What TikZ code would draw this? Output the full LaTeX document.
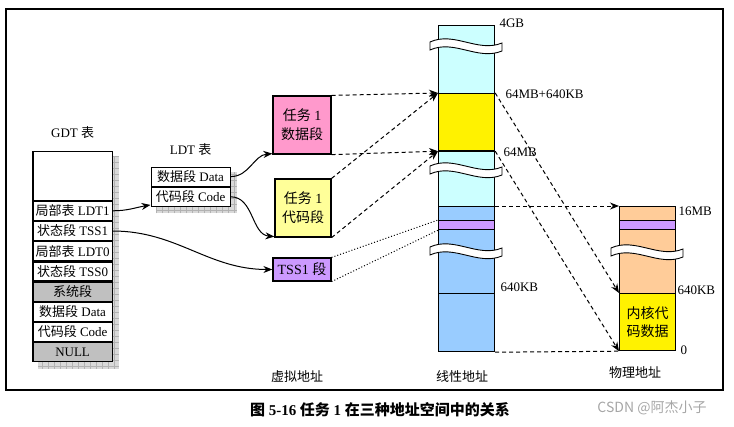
\documentclass[tikz,border=0pt]{standalone}
\usepackage{fontspec}
\setmainfont{Liberation Serif}
\newfontfamily\cjk{Noto Sans CJK SC}
\newcommand{\zh}[1]{{\cjk #1}}
\usepackage{tikz}
\usepackage{xcolor}
\usetikzlibrary{positioning,arrows.meta,backgrounds}

\definecolor{segpink}{HTML}{FF99CC}
\definecolor{segpale}{HTML}{FFFF99}
\definecolor{segtss}{HTML}{CC99FF}
\definecolor{segcyan}{HTML}{CCFFFF}
\definecolor{segblue}{HTML}{99CCFF}
\definecolor{segpeach}{HTML}{FFCC99}
\definecolor{seggray}{HTML}{C0C0C0}

% wavy cut across a column: centre x, centre y
\newcommand{\gapmark}[2]{%
  \filldraw[fill=white,line width=0.9pt] (#1-36,#2-4) .. controls (#1-12,#2-15) and (#1+12,#2+7) .. (#1+36,#2-3)
    -- (#1+36,#2+5) .. controls (#1+12,#2+15) and (#1-12,#2-7) .. (#1-36,#2+4) -- cycle;}

% grey chequered shadow under a table
\newcommand{\tableshadow}[1]{%
  \fill[gray!30] ([shift={(6,6)}]#1.north west) rectangle ([shift={(6,6)}]#1.south east);
  \draw[gray!60,step=6pt,line width=0.5pt] ([shift={(6,6)}]#1.north west) grid ([shift={(6,6)}]#1.south east);}

\begin{document}
\begin{tikzpicture}[x=1pt,y=-1pt,line width=1pt,
font=\fontsize{13}{15}\selectfont,
>={Stealth[length=9pt,width=7pt]},
slot/.style={draw,fill=white,line width=1.2pt,minimum width=79pt,minimum height=19pt,inner sep=0pt},
vbox/.style={draw,line width=1.2pt,inner sep=0pt,align=center,font=\fontsize{14}{19}\selectfont},
seg/.style={draw,line width=1.2pt,minimum width=56pt,inner sep=0pt,anchor=north west},
tag/.style={anchor=west,inner sep=1pt},
dashed/.style={dash pattern=on 4pt off 3pt}]
\useasboundingbox (0,0) rectangle (734,426);
\draw[line width=1.6pt] (6,9) rectangle (723,390);

% GDT
\matrix (gdt) [matrix anchor=north west,inner sep=0pt,row sep=0pt] at (32,150) {
\node (gdtfree) [slot,minimum height=49pt] {}; \\
\node (ldtone) [slot] {\zh{局部表} LDT1}; \\
\node (tssone) [slot] {\zh{状态段} TSS1}; \\
\node (ldtzero) [slot] {\zh{局部表} LDT0}; \\
\node (tsszero) [slot] {\zh{状态段} TSS0}; \\
\node (sysseg) [slot,fill=seggray] {\zh{系统段}}; \\
\node (kdata) [slot] {\zh{数据段} Data}; \\
\node (kcode) [slot] {\zh{代码段} Code}; \\
\node (nullseg) [slot,fill=seggray] {NULL}; \\
};
\node (gdttitle) [above=8pt of gdt] {GDT \zh{表}};

% LDT
\matrix (ldt) [matrix anchor=north west,inner sep=0pt,row sep=0pt] at (150,166) {
\node (ldtdata) [slot] {\zh{数据段} Data}; \\
\node (ldtcode) [slot] {\zh{代码段} Code}; \\
};
\node (ldttitle) [above=7pt of ldt] {LDT \zh{表}};

\begin{scope}[on background layer]
\tableshadow{gdt}
\tableshadow{ldt}
\end{scope}

% virtual segments
\node (taskdata) [vbox,fill=segpink,minimum width=58pt,minimum height=58pt] at (302,125) {\zh{任务} 1\\\zh{数据段}};
\node (taskcode) [vbox,fill=segpale,minimum width=56pt,minimum height=58pt] at (303,208) {\zh{任务} 1\\\zh{代码段}};
\node (tssseg) [vbox,fill=segtss,minimum width=58pt,minimum height=23pt] at (302,269.5) {TSS1 \zh{段}};

% linear space
\node (lintop) [seg,fill=segcyan,minimum height=68pt] at (438,25) {};
\node (linuser) [seg,fill=yellow,minimum height=57pt] at (438,93) {};
\node (linmid) [seg,fill=segcyan,minimum height=56pt] at (438,150) {};
\node (linlow) [seg,fill=segblue,minimum height=87pt] at (438,206) {};
\node (linbase) [seg,fill=segblue,minimum height=58pt] at (438,293) {};
\node (lintss) [seg,fill=segtss,minimum height=9pt] at (438,220) {};
\draw[line width=2.2pt] (linuser.south west) -- (linuser.south east);
\gapmark{466}{46}
\gapmark{466}{170}
\gapmark{466}{251}

% physical space
\node (phyhigh) [seg,fill=segpeach,minimum height=87pt] at (619,206) {};
\node (phytss) [seg,fill=segtss,minimum height=9pt] at (619,220) {};
\node (phykern) [seg,fill=yellow,minimum height=57pt,align=center,
    font=\cjk\fontsize{14}{18}\selectfont] at (619,293) {内核代\\码数据};
\gapmark{647}{252}

\node (lbltop) [tag] at (498,23) {4GB};
\node (lblhigh) [tag] at (504,94) {64MB+640KB};
\node (lblmid) [tag] at (502,152) {64MB};
\node (lbllow) [tag] at (499,287) {640KB};
\node (lblsixteen) [tag] at (677,211) {16MB};
\node (lblkern) [tag] at (676,290) {640KB};
\node (lblzero) [tag] at (679,350) {0};

% connectors
\draw[->] (ldtone.east) to[out=0,in=190] ([yshift=2pt]ldtcode.south west);
\draw[->] (tssone.east) to[out=0,in=180] (tssseg.west);
\draw[->] (ldtdata.east) to[out=0,in=185] ([yshift=1pt]taskdata.south west);
\draw[->] (ldtcode.east) to[out=0,in=175] ([yshift=1pt]taskcode.south west);
\draw[dashed,->] (taskdata.north east) -- (linuser.north west);
\draw[dashed,->] (taskdata.south east) -- (linuser.south west);
\draw[dashed,->] (taskcode.north east) -- (linuser.north west);
\draw[dashed,->] (taskcode.south east) -- (linuser.south west);
\draw[dotted] (tssseg.north east) -- (lintss.north west);
\draw[dotted] (tssseg.south east) -- (lintss.south west);
\draw[dashed,->] (linlow.north east) -- (phyhigh.north west);
\draw[dashed,->] (linuser.north east) -- (phykern.north west);
\draw[dashed,->] (linuser.south east) -- (phykern.south west);
\draw[dashed] (linbase.south east) -- (phykern.south west);

\node (virtname) at (297,377) {\zh{虚拟地址}};
\node (linname) at (462,377) {\zh{线性地址}};
\node (phyname) at (635,373) {\zh{物理地址}};

\node (caption) at (380,410) {\fontsize{15}{17}\selectfont\bfseries\zh{图} 5-16 \zh{任务} 1 \zh{在三种地址空间中的关系}};
\node (mark) [text=gray!70] at (652,408) {\fontsize{14}{16}\selectfont\zh{CSDN @阿杰小子}};
\end{tikzpicture}
\end{document}
